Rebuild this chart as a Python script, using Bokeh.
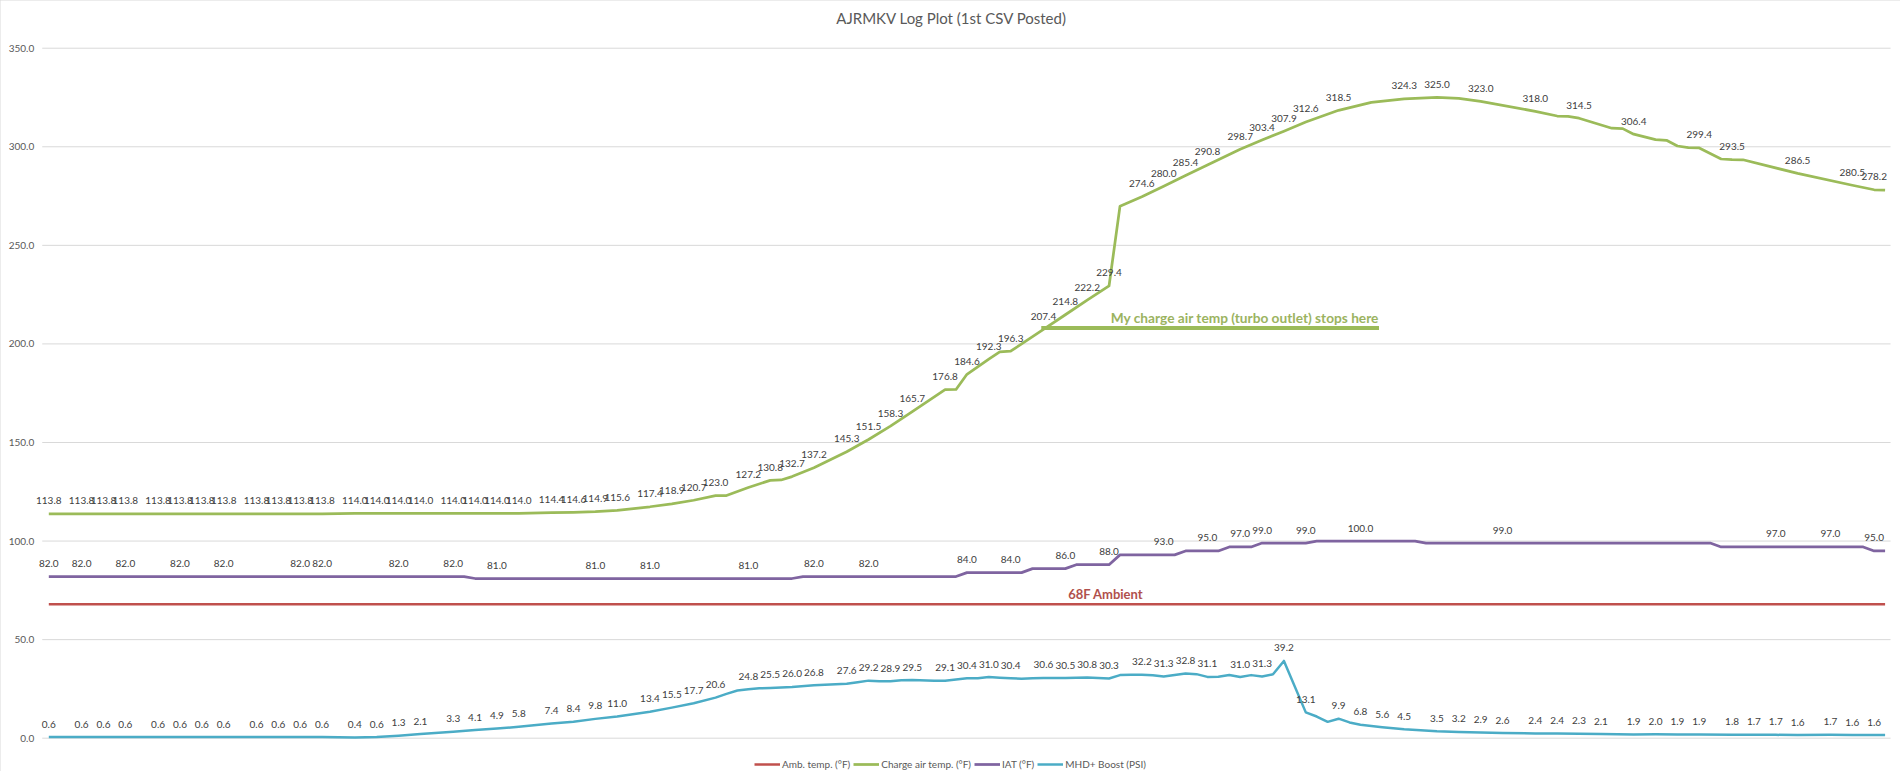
from bokeh.plotting import figure
from bokeh.models import (ColumnDataSource, Legend, LegendItem, Range1d, Label, LabelSet)
from bokeh.embed import file_html
from bokeh.resources import INLINE
from bokeh.core.properties import value

title_text = "AJRMKV Log Plot (1st CSV Posted)"
series_names = ["Amb. temp. (°F)", "Charge air temp. (°F)", "IAT (°F)", "MHD+ Boost (PSI)"]
y_ticks = [0, 50, 100, 150, 200, 250, 300, 350]

# sample index (x) and values for each series
amb_idx = [0, 168]
amb_val = [68.0, 68.0]

green_idx = [
    0, 3, 5, 7, 10, 12, 14, 16, 19, 21,
    23, 25, 28, 30, 32, 34, 37, 39, 41, 43,
    46, 48, 50, 52, 55, 57, 59, 61, 62, 64,
    66, 67, 68, 70, 73, 75, 77, 79, 82, 83,
    84, 86, 87, 88, 91, 93, 95, 97, 98, 100,
    102, 104, 106, 109, 111, 113, 115, 118, 121, 124,
    127, 129, 131, 136, 138, 139, 140, 143, 144, 145,
    147, 148, 149, 150, 151, 153, 154, 155, 160, 165,
    167, 168]
green_val = [
    113.8, 113.8, 113.8, 113.8, 113.8, 113.8, 113.8, 113.8, 113.8, 113.8,
    113.8, 113.8, 114.0, 114.0, 114.0, 114.0, 114.0, 114.0, 114.0, 114.0,
    114.4, 114.6, 114.9, 115.6, 117.4, 118.9, 120.7, 123.0, 123.1, 127.2,
    130.8, 131.0, 132.7, 137.2, 145.3, 151.5, 158.3, 165.7, 176.8, 176.9,
    184.6, 192.3, 196.0, 196.3, 207.4, 214.8, 222.2, 229.4, 269.8, 274.6,
    280.0, 285.4, 290.8, 298.7, 303.4, 307.9, 312.6, 318.5, 322.5, 324.3,
    325.0, 324.6, 323.0, 318.0, 315.6, 315.4, 314.5, 309.4, 309.2, 306.4,
    303.6, 303.3, 300.4, 299.6, 299.4, 293.8, 293.5, 293.4, 286.5, 280.5,
    278.2, 278.0]
green_lab = [0, 3, 5, 7, 10, 12, 14, 16, 19, 21, 23, 25, 28, 30, 32, 34, 37, 39, 41, 43,
             46, 48, 50, 52, 55, 57, 59, 61, 64, 66, 68, 70, 73, 75, 77, 79, 82, 84, 86, 88,
             91, 93, 95, 97, 100, 102, 104, 106, 109, 111, 113, 115, 118, 124, 127, 131,
             136, 140, 145, 151, 154, 160, 165, 167]

iat_idx = [
    0, 3, 7, 12, 16, 23, 25, 32, 37, 38,
    39, 41, 50, 55, 64, 68, 69, 70, 75, 83,
    84, 88, 89, 90, 93, 94, 97, 98, 102, 103,
    104, 106, 107, 108, 109, 110, 111, 115, 116, 120,
    125, 126, 133, 152, 153, 158, 163, 166, 167, 168]
iat_val = [
    82.0, 82.0, 82.0, 82.0, 82.0, 82.0, 82.0, 82.0, 82.0, 82.0,
    81.0, 81.0, 81.0, 81.0, 81.0, 81.0, 82.0, 82.0, 82.0, 82.0,
    84.0, 84.0, 84.0, 86.0, 86.0, 88.0, 88.0, 93.0, 93.0, 93.0,
    95.0, 95.0, 95.0, 97.0, 97.0, 97.0, 99.0, 99.0, 100.0, 100.0,
    100.0, 99.0, 99.0, 99.0, 97.0, 97.0, 97.0, 97.0, 95.0, 95.0]
iat_lab = [0, 3, 7, 12, 16, 23, 25, 32, 37, 41, 50, 55, 64, 70, 75, 84, 88, 93, 97,
           102, 106, 109, 111, 115, 120, 133, 158, 163, 167]

boost_idx = [
    0, 3, 5, 7, 10, 12, 14, 16, 19, 21,
    23, 25, 28, 30, 32, 34, 37, 39, 41, 43,
    46, 48, 50, 52, 55, 57, 59, 61, 62, 63,
    64, 65, 66, 68, 70, 73, 74, 75, 76, 77,
    78, 79, 81, 82, 83, 84, 85, 86, 87, 88,
    89, 90, 91, 92, 93, 94, 95, 96, 97, 98,
    99, 100, 101, 102, 103, 104, 105, 106, 107, 108,
    109, 110, 111, 112, 113, 115, 116, 117, 118, 119,
    120, 122, 124, 127, 129, 131, 133, 136, 138, 140,
    142, 145, 147, 149, 151, 154, 156, 158, 160, 163,
    165, 167, 168]
boost_val = [
    0.6, 0.6, 0.6, 0.6, 0.6, 0.6, 0.6, 0.6, 0.6, 0.6,
    0.6, 0.6, 0.4, 0.6, 1.3, 2.1, 3.3, 4.1, 4.9, 5.8,
    7.4, 8.4, 9.8, 11.0, 13.4, 15.5, 17.7, 20.6, 22.5, 24.2,
    24.8, 25.3, 25.5, 26.0, 26.8, 27.6, 28.4, 29.2, 28.9, 28.9,
    29.4, 29.5, 29.2, 29.1, 29.8, 30.4, 30.4, 31.0, 30.7, 30.4,
    30.2, 30.4, 30.6, 30.5, 30.5, 30.7, 30.8, 30.5, 30.3, 32.0,
    32.2, 32.2, 31.9, 31.3, 32.1, 32.8, 32.5, 31.1, 31.2, 32.1,
    31.0, 32.0, 31.3, 32.4, 39.2, 13.1, 11.0, 8.3, 9.9, 8.0,
    6.8, 5.6, 4.5, 3.5, 3.2, 2.9, 2.6, 2.4, 2.4, 2.3,
    2.1, 1.9, 2.0, 1.9, 1.9, 1.8, 1.7, 1.7, 1.6, 1.7,
    1.6, 1.6, 1.6]
boost_lab = [0, 3, 5, 7, 10, 12, 14, 16, 19, 21, 23, 25, 28, 30, 32, 34, 37, 39, 41, 43,
             46, 48, 50, 52, 55, 57, 59, 61, 64, 66, 68, 70, 73, 75, 77, 79, 82, 84, 86, 88,
             91, 93, 95, 97, 100, 102, 104, 106, 109, 111, 113, 115, 118, 120, 122, 124,
             127, 129, 131, 133, 136, 138, 140, 142, 145, 147, 149, 151, 154, 156, 158,
             160, 163, 165, 167]

# annotations
amb_note = "68F Ambient"
green_note = "My charge air temp (turbo outlet) stops here"

COL_AMB = "#C0504D"
COL_GREEN = "#9BBB59"
COL_IAT = "#7F64A0"
COL_BOOST = "#4BACC6"
FONT = "Lato"

# plot-area extent in data units (category slots around the samples)
X_LO, X_HI = -0.6, 168.5

# the frame covers the whole canvas so nothing near the edges gets clipped
p = figure(width=1900, height=771, output_backend="svg", toolbar_location=None,
           x_range=Range1d(-4.419, 169.41), y_range=Range1d(-16.89, 374.2),
           x_axis_location=None, y_axis_location=None,
           min_border_left=0, min_border_right=0, min_border_top=0, min_border_bottom=0)
p.outline_line_color = None
p.background_fill_color = "white"
p.border_fill_color = "white"
p.grid.visible = False
p.styles = {"outline": "1px solid #d9d9d9", "outline-offset": "-1px"}

# value axis: gridlines + tick labels
p.segment(x0=[X_LO] * len(y_ticks), x1=[X_HI] * len(y_ticks), y0=y_ticks, y1=y_ticks,
          line_color="#d9d9d9", line_width=1)
p.text(x=[X_LO] * len(y_ticks), y=y_ticks, text=["%.1f" % t for t in y_ticks],
       x_offset=-8, text_align="right", text_baseline="middle",
       text_font=value(FONT), text_font_size="10px", text_color="#595959")

# title
p.add_layout(Label(x=82.6, y=365.1, text=title_text, text_align="center",
                   text_baseline="middle", text_font=FONT, text_font_size="15px",
                   text_color="#595959"))

series = [
    (amb_idx, amb_val, [], COL_AMB, 2.5),
    (green_idx, green_val, green_lab, COL_GREEN, 2.75),
    (iat_idx, iat_val, iat_lab, COL_IAT, 2.75),
    (boost_idx, boost_val, boost_lab, COL_BOOST, 2.5),
]

items = []
for (xs, ys, lab, col, lw), name in zip(series, series_names):
    r = p.line(x=list(xs), y=list(ys), line_color=col, line_width=lw, line_join="round")
    items.append(LegendItem(label=name, renderers=[r]))

# green annotation line + text
note_x0, note_x1, note_y = 90.8, 121.7, 208.1
p.line(x=[note_x0, note_x1], y=[note_y, note_y], line_color=COL_GREEN, line_width=4)
p.add_layout(Label(x=note_x1, y=213.4, text=green_note, text_align="right",
                   text_baseline="middle", text_font=FONT, text_font_style="bold",
                   text_font_size="13.7px", text_color="#9BB35F"))
p.add_layout(Label(x=96.7, y=72.9, text=amb_note, text_align="center",
                   text_baseline="middle", text_font=FONT, text_font_style="bold",
                   text_font_size="13px", text_color="#B0504C"))

for (xs, ys, lab, col, lw) in series:
    if not lab:
        continue
    d = dict(zip(xs, ys))
    src = ColumnDataSource(dict(x=lab, y=[d[i] for i in lab],
                                t=["%.1f" % d[i] for i in lab]))
    p.add_layout(LabelSet(x="x", y="y", text="t", source=src, text_align="center",
                          text_baseline="middle", y_offset=13, text_font=value(FONT),
                          text_font_size=value("10px"), text_color=value("#404040")))

legend = Legend(items=items, orientation="horizontal", location=(754, 0),
                glyph_width=26, glyph_height=14, label_height=14, label_standoff=2,
                spacing=3, padding=8, margin=0, border_line_color=None,
                background_fill_alpha=0, label_text_font=FONT,
                label_text_font_size="10px", label_text_color="#595959")
p.add_layout(legend, "center")

open("out.html", "w").write(file_html(p, INLINE))
